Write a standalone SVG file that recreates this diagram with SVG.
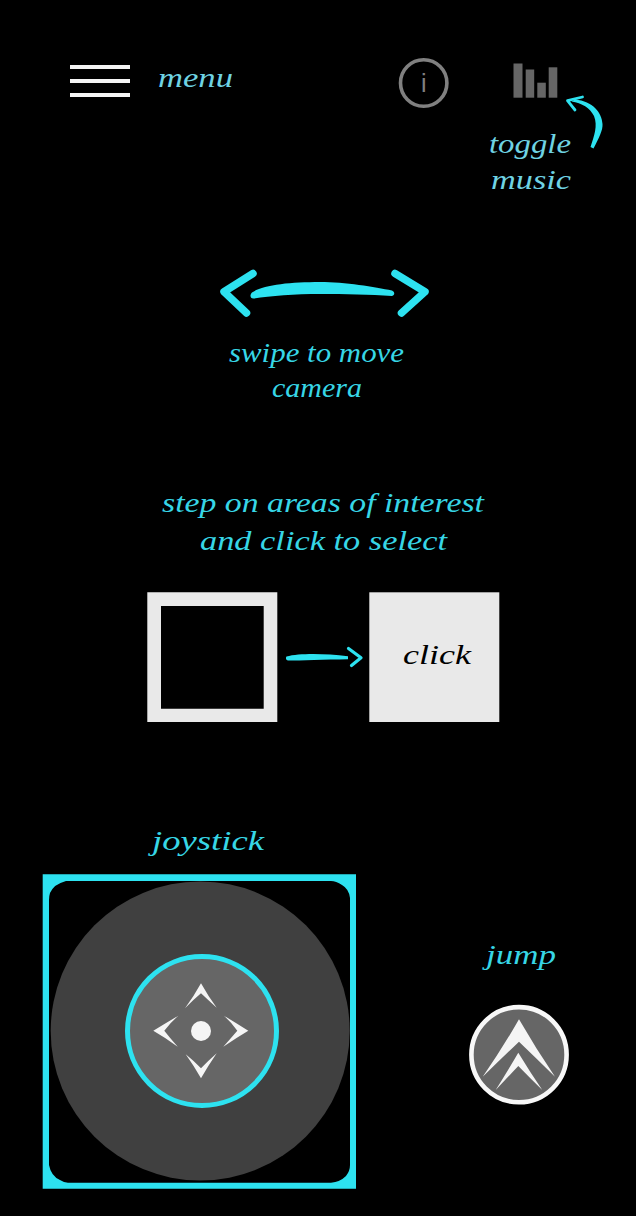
<svg xmlns="http://www.w3.org/2000/svg" width="636" height="1216" viewBox="0 0 636 1216">
<style>
.h{font-family:"Liberation Serif","DejaVu Serif",serif;font-style:italic;font-size:28px;fill:#37d6e6}
.m{fill:#6fd3e3}
.k{fill:#000}
.c{fill:#2de2f0}
.s{fill:none;stroke:#2de2f0;stroke-linecap:round;stroke-linejoin:round}
.w{fill:#f5f5f5}
.g{fill:#666}
.p{fill:#e9e9e9}
</style>
<rect width="636" height="1216" fill="#000"/>
<g id="menu">
<rect x="70" y="65" width="60" height="4" fill="#f5f5f5"/>
<rect x="70" y="79" width="60" height="4" fill="#f5f5f5"/>
<rect x="70" y="93" width="60" height="4" fill="#f5f5f5"/>
<text class="h m" x="158" y="87" textLength="75" lengthAdjust="spacingAndGlyphs">menu</text>
</g>
<g id="info">
<circle cx="423.7" cy="83" r="23.2" fill="none" stroke="#808080" stroke-width="3.6"/>
<text x="423.7" y="92" text-anchor="middle" font-family="Liberation Sans, sans-serif" font-size="25" fill="#808080">i</text>
</g>
<g id="music">
<rect class="g" x="513.5" y="63.5" width="9" height="34.2"/>
<rect class="g" x="525.7" y="69.5" width="8.5" height="28.2"/>
<rect class="g" x="537.3" y="82.7" width="8.5" height="15"/>
<rect class="g" x="548.7" y="67.3" width="8.6" height="30.4"/>
<text class="h m" x="489" y="153" textLength="82" lengthAdjust="spacingAndGlyphs">toggle</text>
<text class="h m" x="491" y="189" textLength="80" lengthAdjust="spacingAndGlyphs">music</text>
</g>
<g id="swipe">
<text class="h" x="229" y="362" textLength="175" lengthAdjust="spacingAndGlyphs">swipe to move</text>
<text class="h" x="272" y="397" textLength="90" lengthAdjust="spacingAndGlyphs">camera</text>
</g>
<g id="select">
<text class="h" x="162" y="512" textLength="322" lengthAdjust="spacingAndGlyphs">step on areas of interest</text>
<text class="h" x="200" y="550" textLength="247" lengthAdjust="spacingAndGlyphs">and click to select</text>
</g>
<g id="square-empty">
<path class="p" fill-rule="evenodd" d="M147.3 592.3H277.3V722H147.3ZM161 606V708.7H263.7V606Z"/>
</g>
<g id="square-click">
<rect class="p" x="369.3" y="592.3" width="130" height="129.7"/>
<text class="h k" x="403" y="664" textLength="68" lengthAdjust="spacingAndGlyphs">click</text>
</g>
<g id="joystick">
<text class="h" x="152" y="850" textLength="112" lengthAdjust="spacingAndGlyphs">joystick</text>
<path class="c" fill-rule="evenodd" d="M42.7 874.3H356V1188.7H42.7ZM66 881Q54 884 50 893Q49 896 49 900V1165Q51 1176 60 1180Q64 1182.7 68 1182.7H331Q340 1182 346 1176Q350 1171 350 1165V898Q349 889 342 885Q336 881 331 881Z"/>
<circle cx="200.2" cy="1031" r="149.5" fill="#404040"/>
<circle cx="202" cy="1031" r="74.5" fill="#666" stroke="#2de2f0" stroke-width="5"/>
<circle class="w" cx="201" cy="1031" r="10"/>
<path class="w" d="M201 983.3Q208 996 216.7 1007.7Q208 1000 201 993.3Q193 1000 185 1008.3Q194 996 201 983.3Z"/>
<path class="w" d="M153.3 1030.7Q166 1023 178.3 1015.7Q170 1023 164.3 1030.7Q170 1038 177.7 1046.7Q166 1038 153.3 1030.7Z"/>
<path class="w" d="M248.3 1030.7Q236 1023 224 1015.7Q232 1023 237.3 1030.7Q231 1038 223.3 1046.7Q236 1038 248.3 1030.7Z"/>
<path class="w" d="M201 1078.3Q194 1066 185.7 1054.3Q194 1061 201 1068.3Q208 1061 216.7 1053.3Q208 1066 201 1078.3Z"/>
</g>
<g id="jump">
<text class="h" x="486" y="964" textLength="70" lengthAdjust="spacingAndGlyphs">jump</text>
<circle cx="519" cy="1054.7" r="47.6" fill="#666" stroke="#f8f8f8" stroke-width="4.6"/>
<path class="w" d="M519 1019.3Q536 1049 555 1076.7Q537 1059 519 1041.7Q501 1059 482.7 1076.7Q502 1049 519 1019.3Z"/>
<path class="w" d="M518.3 1052.7Q530 1072 542.3 1090Q530 1078 518.3 1066Q507 1078 495.7 1090Q507 1072 518.3 1052.7Z"/>
</g>
<g id="connectors">
<path class="c" d="M593.5 148.5C599 138 603 130 602.5 124C602 113 593 101 575 99.5L571.5 101.5C582 103 590 108 594 116C598 126 594 136 590.5 147Z"/>
<path class="s" stroke-width="2.8" d="M582.5 97L567.5 100.7L575 110"/>
<path class="s" stroke-width="7.5" d="M253 273.5L224 291.7L246.5 313"/>
<path class="s" stroke-width="7.5" d="M395 273.5L425 291.7L401.5 313"/>
<path class="c" d="M252 292.5C262 285 290 282 320 282C345 282 375 287 392 290.5C395 292 395 295 392 296C370 294.5 345 294 320 294C295 294 270 296 254 298.5C250 299 249.5 295 252 292.5Z"/>
<path class="c" d="M286.5 656.5C300 653 325 653.5 348 656.2V659.2C325 659.5 300 660.5 288 660.5C286 660.5 285.5 657.5 286.5 656.5Z"/>
<path class="s" stroke-width="3.2" d="M348.5 648.5L361 657.7L351.5 665.5"/>
</g>
</svg>
